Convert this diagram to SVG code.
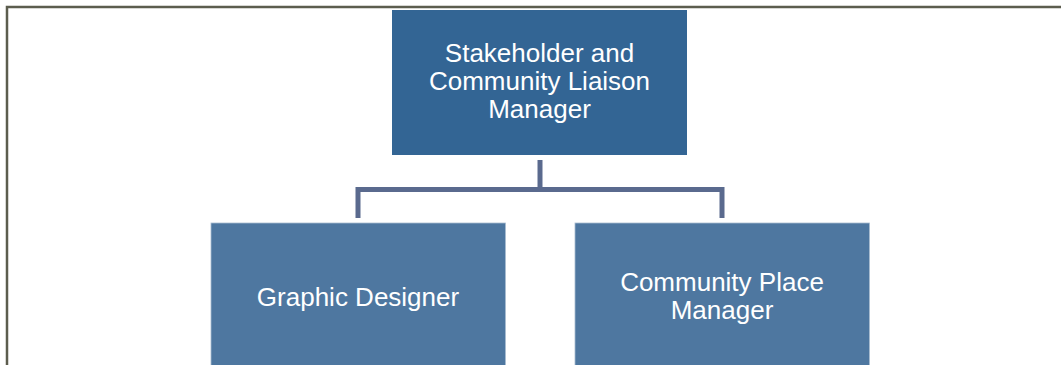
<svg xmlns="http://www.w3.org/2000/svg" width="1061" height="365" viewBox="0 0 1061 365">
<style>
.frame{stroke:#5c5d4e;stroke-width:2.5;fill:none}
.conn{stroke:#5a6a8e;stroke-width:5;fill:none;stroke-linejoin:miter}
.top{fill:#336594}
.sub{fill:#4e77a0;stroke:#a9bcd0;stroke-width:0.8}
text{font-family:"Liberation Sans",Arial,sans-serif;font-size:26px;fill:#ffffff;text-anchor:middle}
</style>
<rect width="1061" height="365" fill="#ffffff"/>
<path class="frame" d="M7,365 V7 H1061"/>
<g id="connectors">
<path class="conn" d="M540,160 V189.5"/>
<path class="conn" d="M358,218 V189.5 H722 V218"/>
</g>
<g id="node-stakeholder">
<rect class="top" x="392" y="10" width="295" height="145"/>
<text x="539.5" y="62">Stakeholder and</text>
<text x="539.5" y="90">Community Liaison</text>
<text x="539.5" y="118">Manager</text>
</g>
<g id="node-graphic">
<rect class="sub" x="211" y="223" width="294.5" height="145"/>
<text x="358" y="306">Graphic Designer</text>
</g>
<g id="node-place">
<rect class="sub" x="575" y="223" width="294.5" height="145"/>
<text x="722" y="291">Community Place</text>
<text x="722" y="319">Manager</text>
</g>
</svg>
